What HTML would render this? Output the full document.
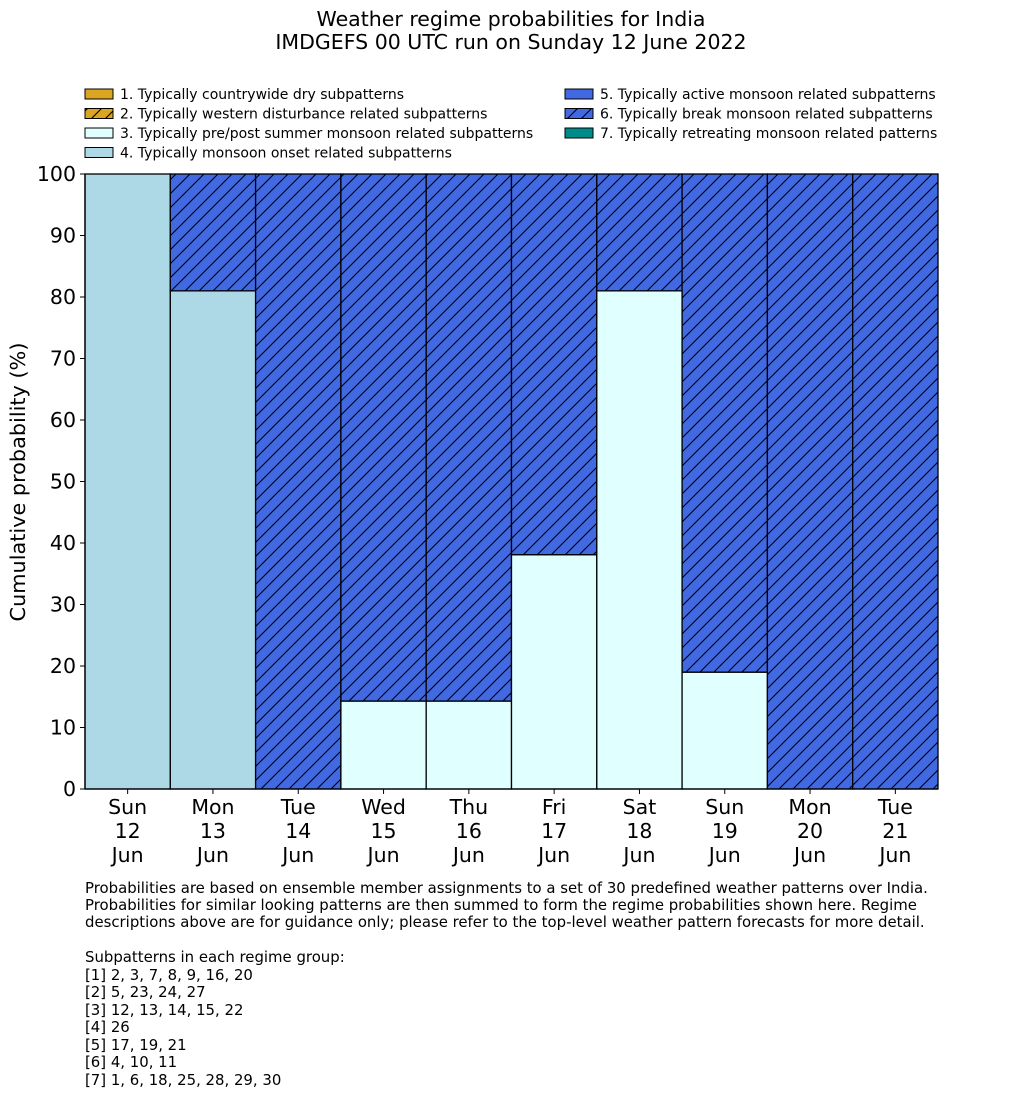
<!DOCTYPE html>
<html><head><meta charset="utf-8"><style>
body{margin:0;background:#fff;font-family:"Liberation Sans","DejaVu Sans",sans-serif;}
svg text{font-family:"DejaVu Sans","Liberation Sans",sans-serif;}
</style></head><body>
<svg id="chart" width="1033" height="1114" xmlns="http://www.w3.org/2000/svg">
<defs>
<pattern id="hatch" patternUnits="userSpaceOnUse" width="14" height="14">
<rect width="14" height="14" fill="#4169e1"/>
<path d="M-1,15 L15,-1 M-7,7 L7,-7 M7,21 L21,7" stroke="#000" stroke-width="1.1"/>
</pattern>
<pattern id="hatchG" patternUnits="userSpaceOnUse" width="14" height="14">
<rect width="14" height="14" fill="#daa520"/>
<path d="M-1,15 L15,-1 M-7,7 L7,-7 M7,21 L21,7" stroke="#000" stroke-width="1.1"/>
</pattern>
</defs>
<text x="511" y="26" text-anchor="middle" font-size="20.5">Weather regime probabilities for India</text>
<text x="511" y="49" text-anchor="middle" font-size="20.5">IMDGEFS 00 UTC run on Sunday 12 June 2022</text>
<g id="legend" font-size="14"></g>
<g id="bars"></g>
<g id="axes"></g>
<text transform="translate(25,482) rotate(-90)" text-anchor="middle" font-size="20.8">Cumulative probability (%)</text>
<g font-size="14.9">
<text x="85" y="893">Probabilities are based on ensemble member assignments to a set of 30 predefined weather patterns over India.</text>
<text x="85" y="910">Probabilities for similar looking patterns are then summed to form the regime probabilities shown here. Regime</text>
<text x="85" y="927">descriptions above are for guidance only; please refer to the top-level weather pattern forecasts for more detail.</text>
<text x="85" y="962">Subpatterns in each regime group:</text>
<text x="85" y="980">[1] 2, 3, 7, 8, 9, 16, 20</text>
<text x="85" y="997">[2] 5, 23, 24, 27</text>
<text x="85" y="1015">[3] 12, 13, 14, 15, 22</text>
<text x="85" y="1032">[4] 26</text>
<text x="85" y="1050">[5] 17, 19, 21</text>
<text x="85" y="1067">[6] 4, 10, 11</text>
<text x="85" y="1085">[7] 1, 6, 18, 25, 28, 29, 30</text>
</g>
</svg>
<script>
const days=["Sun","Mon","Tue","Wed","Thu","Fri","Sat","Sun","Mon","Tue"];
const dates=["12","13","14","15","16","17","18","19","20","21"];
const r1=[0,0,0,0,0,0,0,0,0,0];
const r2=[0,0,0,0,0,0,0,0,0,0];
const r3=[0,0,0,14.3,14.3,38.1,81,19,0,0];
const r4=[100,81,0,0,0,0,0,0,0,0];
const r5=[0,0,0,0,0,0,0,0,0,0];
const r6=[0,19,100,85.7,85.7,61.9,19,81,100,100];
const r7=[0,0,0,0,0,0,0,0,0,0];
const yTicks=[0,10,20,30,40,50,60,70,80,90,100];
const legendLabels=["1. Typically countrywide dry subpatterns","2. Typically western disturbance related subpatterns","3. Typically pre/post summer monsoon related subpatterns","4. Typically monsoon onset related subpatterns","5. Typically active monsoon related subpatterns","6. Typically break monsoon related subpatterns","7. Typically retreating monsoon related patterns"];
const fills=["#daa520","url(#hatchG)","#e0ffff","#add8e6","#4169e1","url(#hatch)","#008b8b"];
const NS="http://www.w3.org/2000/svg";
const X0=85,X1=938,Y0=789,Y1=174,bw=(X1-X0)/days.length;
const y=v=>Y0-(Y0-Y1)*v/100;
const x=i=>X0+i*bw;
function mk(t,a,p){const e=document.createElementNS(NS,t);for(const k in a)e.setAttribute(k,a[k]);p.appendChild(e);return e;}
const series=[r1,r2,r3,r4,r5,r6,r7];
const bars=document.getElementById('bars');
days.forEach((d,i)=>{let cum=0;series.forEach((s,k)=>{const v=s[i];if(v>0){
const r=mk('rect',{x:x(i),y:y(cum+v),width:bw,height:y(cum)-y(cum+v),fill:fills[k],stroke:'#000','stroke-width':1.3},bars);


cum+=v;}});});
const ax=document.getElementById('axes');
mk('line',{x1:X0,y1:Y1,x2:X0,y2:Y0,stroke:'#000','stroke-width':1.3},ax);
mk('line',{x1:X0,y1:Y0,x2:X1,y2:Y0,stroke:'#000','stroke-width':1.3},ax);
yTicks.forEach(t=>{mk('line',{x1:X0-5,y1:y(t),x2:X0,y2:y(t),stroke:'#000'},ax);
const tx=mk('text',{x:X0-9,y:y(t)+7,'text-anchor':'end','font-size':20.5},ax);tx.textContent=t;

});
days.forEach((d,i)=>{const cx=x(i)+bw/2;mk('line',{x1:cx,y1:Y0,x2:cx,y2:Y0+5,stroke:'#000'},ax);
[d,dates[i],"Jun"].forEach((s,j)=>{const tx=mk('text',{x:cx,y:Y0+25+j*24,'text-anchor':'middle','font-size':20.5},ax);tx.textContent=s;

});});
const lg=document.getElementById('legend');
legendLabels.forEach((l,k)=>{const col=k<4?0:1,row=k<4?k:k-4;const lx=col?565:85,ly=89+row*19.5;
const r=mk('rect',{x:lx,y:ly,width:28,height:10,fill:fills[k],stroke:'#000','stroke-width':1},lg);


const t=mk('text',{x:lx+35,y:ly+10},lg);t.textContent=l;

});
</script>
</body></html>
